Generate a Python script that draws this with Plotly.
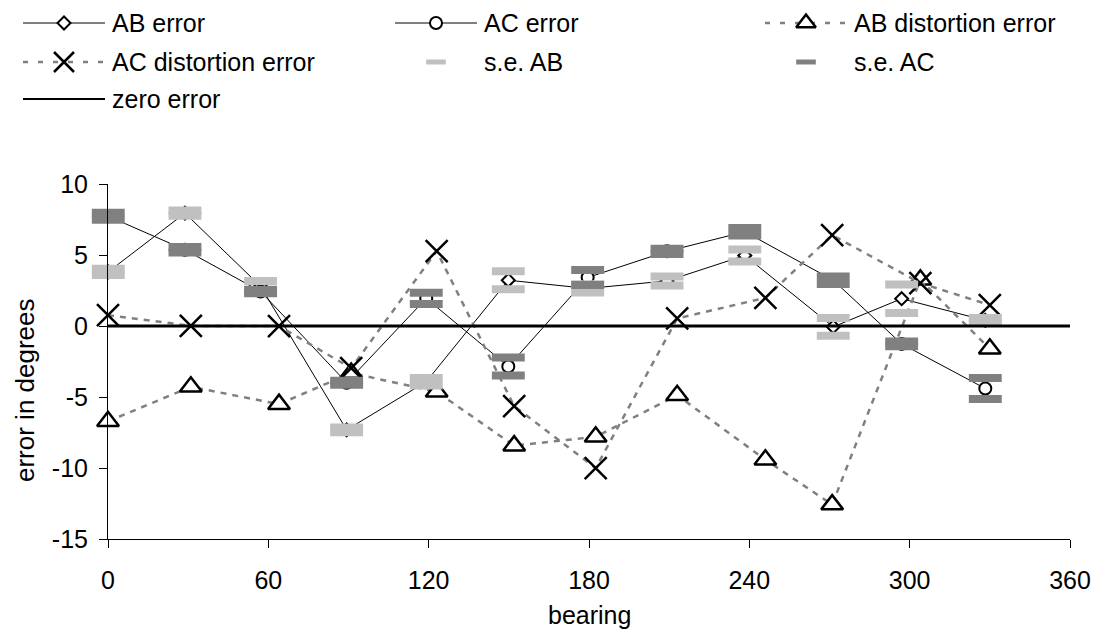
import plotly.graph_objects as go

# ---------------- data ----------------
bearing_err = [0.1, 28.8, 57.1, 89.3, 119.1, 149.8, 179.5, 209.2, 238.3, 271.4, 297.0, 328.3]
ab_error = [3.82, 7.95, 2.80, -7.30, -3.91, 3.23, 2.65, 3.18, 4.97, -0.05, 1.93, 0.40]
ac_error = [7.73, 5.37, 2.44, -3.98, 1.95, -2.84, 3.42, 5.26, 6.64, 3.23, -1.25, -4.39]
ab_se = [0.22, 0.19, 0.37, 0.16, 0.26, 0.63, 0.29, 0.32, 0.43, 0.63, 1.00, 0.18]
ac_se = [0.25, 0.19, 0.12, 0.14, 0.39, 0.64, 0.52, 0.18, 0.26, 0.27, 0.16, 0.74]

bearing_dist = [0, 31, 64, 91, 123, 152, 182.5, 213, 246, 271, 304, 330]
ab_distortion = [-6.70, -4.27, -5.49, -3.30, -4.62, -8.41, -7.79, -4.86, -9.40, -12.56, 3.26, -1.60]
ac_distortion = [0.77, 0.02, 0.00, -2.96, 5.28, -5.63, -9.99, 0.54, 1.99, 6.40, 3.03, 1.48]

zero_x = [-4, 360]
zero_y = [0, 0]

x_ticks = [0, 60, 120, 180, 240, 300, 360]
y_ticks = [-15, -10, -5, 0, 5, 10]
x_title = "bearing"
y_title = "error in degrees"

# ---------------- layout geometry (window pixels) ----------------
WIN_W, WIN_H = 1099, 634
OFF = 8                      # page body margin
W, H = WIN_W - OFF, WIN_H - OFF
PL, PR, PT, PB = 108, 1070, 184, 539.3
FONT = "Arial, Liberation Sans, Helvetica, sans-serif"
FS = 25
LIGHT = "#C0C0C0"
DARK = "#808080"

fig = go.Figure()

# AB error
fig.add_trace(go.Scatter(
    x=bearing_err, y=ab_error, mode="lines+markers", name="AB error",
    line=dict(color="black", width=1),
    marker=dict(symbol="diamond", size=10, color="white", line=dict(color="black", width=2)),
    cliponaxis=False, showlegend=False))
# AC error
fig.add_trace(go.Scatter(
    x=bearing_err, y=ac_error, mode="lines+markers", name="AC error",
    line=dict(color="black", width=1),
    marker=dict(symbol="circle", size=12, color="white", line=dict(color="black", width=2)),
    cliponaxis=False, showlegend=False))
# AB distortion error
fig.add_trace(go.Scatter(
    x=bearing_dist, y=ab_distortion, mode="lines+markers", name="AB distortion error",
    line=dict(color=DARK, width=2.5, dash="6px,6px"),
    marker=dict(symbol="triangle-up", size=19, color="white", line=dict(color="black", width=2.5)),
    cliponaxis=False, showlegend=False))
# AC distortion error
fig.add_trace(go.Scatter(
    x=bearing_dist, y=ac_distortion, mode="lines+markers", name="AC distortion error",
    line=dict(color=DARK, width=2.5, dash="6px,6px"),
    marker=dict(symbol="x-thin", size=22, line=dict(color="black", width=2.5)),
    cliponaxis=False, showlegend=False))
# s.e. AB (upper and lower dashes)
fig.add_trace(go.Scatter(
    x=bearing_err + bearing_err,
    y=[e + s for e, s in zip(ab_error, ab_se)] + [e - s for e, s in zip(ab_error, ab_se)],
    mode="markers", name="s.e. AB",
    marker=dict(symbol="line-ew", size=23.5, line=dict(color=LIGHT, width=8)),
    cliponaxis=False, showlegend=False))
# s.e. AC
fig.add_trace(go.Scatter(
    x=bearing_err + bearing_err,
    y=[e + s for e, s in zip(ac_error, ac_se)] + [e - s for e, s in zip(ac_error, ac_se)],
    mode="markers", name="s.e. AC",
    marker=dict(symbol="line-ew", size=23.5, line=dict(color=DARK, width=8)),
    cliponaxis=False, showlegend=False))
# zero error
fig.add_trace(go.Scatter(
    x=zero_x, y=zero_y, mode="lines", name="zero error",
    line=dict(color="black", width=3), cliponaxis=False, showlegend=False))

# ---------------- custom legend on a full-window pixel overlay ----------------
legend_entries = [
    # name, centre x of glyph, row y, style
    ("AB error", 64, 23, "ab"),
    ("AC error", 436, 23, "ac"),
    ("AB distortion error", 806, 23, "abd"),
    ("AC distortion error", 64, 62, "acd"),
    ("s.e. AB", 436, 62, "seab"),
    ("s.e. AC", 806, 62, "seac"),
    ("zero error", 64, 99, "zero"),
]
HALF = 41
TEXT_DX = 46
for name, cx, ry, kind in legend_entries:
    if kind in ("ab", "ac", "zero"):
        fig.add_trace(go.Scatter(x=[cx - HALF, cx + HALF], y=[ry, ry], mode="lines",
                                 line=dict(color="black", width=1 if kind != "zero" else 2),
                                 xaxis="x2", yaxis="y2", showlegend=False, hoverinfo="skip"))
    if kind in ("abd", "acd"):
        fig.add_trace(go.Scatter(x=[cx - HALF, cx + HALF], y=[ry, ry], mode="lines",
                                 line=dict(color=DARK, width=2.5, dash="5px,10px"),
                                 xaxis="x2", yaxis="y2", showlegend=False, hoverinfo="skip"))
    mk = None
    if kind == "ab":
        mk = dict(symbol="diamond", size=10, color="white", line=dict(color="black", width=2))
    elif kind == "ac":
        mk = dict(symbol="circle", size=12, color="white", line=dict(color="black", width=2))
    elif kind == "abd":
        mk = dict(symbol="triangle-up", size=17, color="white", line=dict(color="black", width=2.5))
    elif kind == "acd":
        mk = dict(symbol="x-thin", size=20, line=dict(color="black", width=2.5))
    elif kind == "seab":
        mk = dict(symbol="line-ew", size=14, line=dict(color=LIGHT, width=5))
    elif kind == "seac":
        mk = dict(symbol="line-ew", size=14, line=dict(color=DARK, width=5))
    if mk is not None:
        fig.add_trace(go.Scatter(x=[cx], y=[ry], mode="markers", marker=mk,
                                 xaxis="x2", yaxis="y2", showlegend=False, hoverinfo="skip"))
    fig.add_annotation(x=cx + TEXT_DX, y=ry, xref="x2", yref="y2", text=name,
                       showarrow=False, xanchor="left", yanchor="middle",
                       font=dict(family=FONT, size=FS, color="black"))

# axis titles
fig.add_annotation(x=(PL + PR) / 2, y=615, xref="x2", yref="y2", text=x_title,
                   showarrow=False, xanchor="center", yanchor="middle",
                   font=dict(family=FONT, size=FS, color="black"))
fig.add_annotation(x=25, y=390, xref="x2", yref="y2", text=y_title, textangle=-90,
                   showarrow=False, xanchor="center", yanchor="middle", borderpad=0,
                   font=dict(family=FONT, size=26, color="black"))

axis_common = dict(showgrid=False, zeroline=False, showline=True, linecolor="black",
                   linewidth=1, ticks="outside", ticklen=8, tickcolor="black", tickwidth=1,
                   tickfont=dict(family=FONT, size=FS, color="black"), fixedrange=True,
                   automargin=False)

fig.update_layout(
    width=W, height=H, margin=dict(l=0, r=0, t=0, b=0, pad=0),
    paper_bgcolor="white", plot_bgcolor="rgba(0,0,0,0)", template="none",
    showlegend=False,
    font=dict(family=FONT, size=FS, color="black"),
    xaxis=dict(domain=[(PL - OFF) / W, (PR - OFF) / W], range=[0, 360], tickmode="array",
               tickvals=x_ticks, ticktext=[str(v) for v in x_ticks],
               ticklabelstandoff=11, anchor="y", **axis_common),
    yaxis=dict(domain=[1 - (PB - OFF) / H, 1 - (PT - OFF) / H], range=[-15, 10],
               tickmode="array", tickvals=y_ticks, ticktext=[str(v) for v in y_ticks],
               ticklabelstandoff=6, anchor="x", **axis_common),
    xaxis2=dict(domain=[0, 1], range=[OFF, OFF + W], visible=False, anchor="y2",
                fixedrange=True),
    yaxis2=dict(domain=[0, 1], range=[OFF + H, OFF], visible=False, anchor="x2",
                fixedrange=True),
)

fig.write_html("out.html")
